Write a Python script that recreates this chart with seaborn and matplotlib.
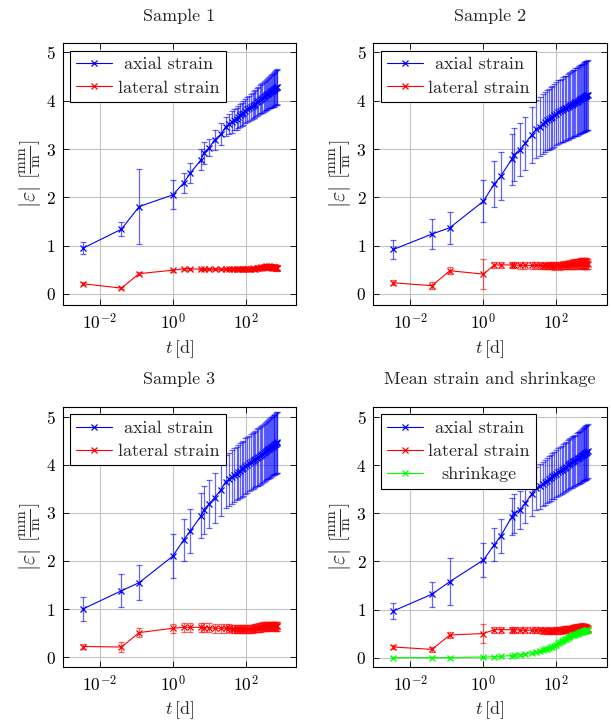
import matplotlib
matplotlib.use("Agg")
import matplotlib.pyplot as plt
from matplotlib.ticker import NullLocator
from matplotlib.transforms import Bbox
import seaborn as sns

# measurement times in days
days = [0.0034, 0.039, 0.12, 1, 2, 3, 6, 7, 10, 14, 21, 28,
        35, 42, 49, 56, 63, 70, 77, 84, 98, 112, 126, 140,
        154, 168, 182, 203, 224, 245, 266, 287, 308, 336, 364, 392,
        420, 448, 476, 504, 532, 560, 588, 616, 644, 672, 700, 728]

# sample 1 (mm/m)
s1_axial = [0.945, 1.34, 1.81, 2.05, 2.30, 2.50, 2.78, 2.92, 3.03, 3.19, 3.31, 3.46,
            3.52, 3.56, 3.61, 3.63, 3.66, 3.70, 3.72, 3.74, 3.78, 3.82, 3.84, 3.87,
            3.90, 3.92, 3.94, 3.97, 3.99, 4.02, 4.04, 4.06, 4.07, 4.10, 4.12, 4.13,
            4.15, 4.17, 4.18, 4.20, 4.21, 4.22, 4.23, 4.25, 4.26, 4.27, 4.28, 4.29]
s1_axial_sd = [0.12, 0.14, 0.77, 0.30, 0.21, 0.21, 0.22, 0.22, 0.18, 0.20, 0.22, 0.20,
               0.21, 0.22, 0.22, 0.23, 0.23, 0.24, 0.24, 0.25, 0.25, 0.26, 0.26, 0.27,
               0.27, 0.28, 0.28, 0.29, 0.29, 0.30, 0.30, 0.31, 0.31, 0.31, 0.32, 0.32,
               0.33, 0.33, 0.33, 0.34, 0.34, 0.34, 0.35, 0.35, 0.35, 0.36, 0.36, 0.36]
s1_lateral = [0.21, 0.12, 0.42, 0.49, 0.52, 0.52, 0.51, 0.51, 0.51, 0.51, 0.51, 0.51,
              0.51, 0.52, 0.51, 0.52, 0.51, 0.52, 0.52, 0.51, 0.52, 0.52, 0.51, 0.52,
              0.53, 0.52, 0.52, 0.53, 0.54, 0.53, 0.55, 0.54, 0.56, 0.55, 0.57, 0.56,
              0.55, 0.57, 0.56, 0.55, 0.54, 0.56, 0.55, 0.54, 0.55, 0.53, 0.54, 0.53]
s1_lateral_sd = [0.03, 0.02, 0.03, 0.03, 0.02, 0.02, 0.02, 0.02, 0.02, 0.02, 0.02, 0.02,
                 0.02, 0.02, 0.02, 0.02, 0.02, 0.03, 0.03, 0.03, 0.03, 0.03, 0.03, 0.03,
                 0.03, 0.03, 0.03, 0.03, 0.04, 0.04, 0.04, 0.04, 0.04, 0.04, 0.05, 0.05,
                 0.05, 0.05, 0.05, 0.05, 0.05, 0.05, 0.05, 0.05, 0.05, 0.05, 0.05, 0.05]

# sample 2
s2_axial = [0.92, 1.24, 1.37, 1.92, 2.28, 2.44, 2.79, 2.88, 2.99, 3.12, 3.29, 3.41,
            3.46, 3.52, 3.56, 3.60, 3.62, 3.65, 3.67, 3.70, 3.73, 3.76, 3.78, 3.80,
            3.82, 3.84, 3.85, 3.87, 3.89, 3.91, 3.92, 3.94, 3.95, 3.97, 3.98, 4.00,
            4.01, 4.03, 4.04, 4.05, 4.06, 4.07, 4.08, 4.09, 4.10, 4.10, 4.11, 4.12]
s2_axial_sd = [0.20, 0.31, 0.33, 0.44, 0.48, 0.50, 0.53, 0.55, 0.55, 0.55, 0.58, 0.60,
               0.61, 0.62, 0.62, 0.63, 0.63, 0.64, 0.64, 0.65, 0.65, 0.66, 0.66, 0.66,
               0.67, 0.67, 0.67, 0.68, 0.68, 0.68, 0.69, 0.69, 0.69, 0.70, 0.70, 0.70,
               0.70, 0.71, 0.71, 0.71, 0.71, 0.71, 0.72, 0.72, 0.72, 0.72, 0.72, 0.72]
s2_lateral = [0.23, 0.17, 0.48, 0.41, 0.60, 0.60, 0.60, 0.60, 0.59, 0.59, 0.59, 0.59,
              0.59, 0.58, 0.59, 0.58, 0.59, 0.58, 0.59, 0.58, 0.59, 0.59, 0.58, 0.59,
              0.60, 0.59, 0.60, 0.60, 0.61, 0.60, 0.61, 0.62, 0.61, 0.62, 0.63, 0.62,
              0.63, 0.64, 0.63, 0.64, 0.63, 0.64, 0.63, 0.62, 0.63, 0.62, 0.63, 0.62]
s2_lateral_sd = [0.05, 0.07, 0.07, 0.31, 0.07, 0.06, 0.07, 0.07, 0.07, 0.07, 0.07, 0.07,
                 0.07, 0.07, 0.07, 0.07, 0.07, 0.07, 0.07, 0.08, 0.08, 0.08, 0.08, 0.08,
                 0.08, 0.08, 0.09, 0.09, 0.09, 0.09, 0.09, 0.10, 0.10, 0.10, 0.10, 0.10,
                 0.10, 0.11, 0.11, 0.11, 0.11, 0.11, 0.11, 0.11, 0.11, 0.11, 0.11, 0.11]

# sample 3
s3_axial = [1.00, 1.38, 1.55, 2.10, 2.44, 2.62, 2.94, 3.06, 3.19, 3.32, 3.48, 3.65,
            3.70, 3.75, 3.79, 3.82, 3.85, 3.88, 3.91, 3.93, 3.97, 4.00, 4.03, 4.06,
            4.08, 4.10, 4.12, 4.15, 4.17, 4.19, 4.21, 4.23, 4.25, 4.27, 4.29, 4.31,
            4.32, 4.34, 4.35, 4.37, 4.38, 4.40, 4.41, 4.42, 4.43, 4.44, 4.46, 4.47]
s3_axial_sd = [0.24, 0.34, 0.37, 0.46, 0.44, 0.46, 0.47, 0.50, 0.50, 0.52, 0.55, 0.55,
               0.55, 0.56, 0.56, 0.56, 0.57, 0.57, 0.57, 0.57, 0.58, 0.58, 0.58, 0.58,
               0.59, 0.59, 0.59, 0.59, 0.60, 0.60, 0.60, 0.60, 0.60, 0.61, 0.61, 0.61,
               0.61, 0.61, 0.62, 0.62, 0.62, 0.62, 0.62, 0.62, 0.63, 0.63, 0.63, 0.63]
s3_lateral = [0.22, 0.21, 0.51, 0.60, 0.62, 0.62, 0.62, 0.61, 0.61, 0.60, 0.60, 0.60,
              0.60, 0.59, 0.59, 0.58, 0.59, 0.58, 0.58, 0.58, 0.58, 0.59, 0.58, 0.59,
              0.59, 0.60, 0.60, 0.61, 0.61, 0.62, 0.62, 0.63, 0.63, 0.64, 0.63, 0.64,
              0.65, 0.64, 0.65, 0.64, 0.65, 0.65, 0.64, 0.65, 0.64, 0.65, 0.64, 0.64]
s3_lateral_sd = [0.05, 0.10, 0.09, 0.09, 0.09, 0.09, 0.09, 0.09, 0.09, 0.09, 0.09, 0.09,
                 0.08, 0.08, 0.08, 0.08, 0.08, 0.08, 0.08, 0.08, 0.08, 0.08, 0.08, 0.08,
                 0.08, 0.08, 0.08, 0.08, 0.09, 0.09, 0.09, 0.09, 0.09, 0.09, 0.09, 0.09,
                 0.09, 0.09, 0.09, 0.09, 0.09, 0.09, 0.09, 0.09, 0.09, 0.09, 0.09, 0.09]

# mean of the three samples and free shrinkage
mean_axial = [0.97, 1.32, 1.58, 2.03, 2.35, 2.53, 2.93, 3.00, 3.07, 3.21, 3.40, 3.52,
              3.56, 3.61, 3.65, 3.68, 3.71, 3.74, 3.77, 3.79, 3.83, 3.86, 3.88, 3.91,
              3.93, 3.95, 3.97, 4.00, 4.02, 4.04, 4.06, 4.08, 4.09, 4.11, 4.13, 4.15,
              4.16, 4.18, 4.19, 4.21, 4.22, 4.23, 4.24, 4.25, 4.26, 4.27, 4.28, 4.30]
mean_axial_sd = [0.17, 0.26, 0.49, 0.36, 0.35, 0.36, 0.38, 0.40, 0.40, 0.42, 0.45, 0.45,
                 0.46, 0.46, 0.47, 0.47, 0.48, 0.48, 0.48, 0.49, 0.49, 0.50, 0.50, 0.50,
                 0.51, 0.51, 0.51, 0.52, 0.52, 0.52, 0.53, 0.53, 0.53, 0.53, 0.54, 0.54,
                 0.54, 0.54, 0.55, 0.55, 0.55, 0.55, 0.55, 0.56, 0.56, 0.56, 0.56, 0.56]
mean_lateral = [0.22, 0.17, 0.47, 0.50, 0.58, 0.58, 0.58, 0.58, 0.57, 0.57, 0.57, 0.57,
                0.57, 0.56, 0.57, 0.56, 0.56, 0.57, 0.56, 0.56, 0.57, 0.57, 0.57, 0.57,
                0.58, 0.58, 0.58, 0.59, 0.59, 0.59, 0.60, 0.60, 0.61, 0.61, 0.61, 0.62,
                0.62, 0.62, 0.63, 0.62, 0.63, 0.62, 0.62, 0.62, 0.61, 0.61, 0.60, 0.60]
mean_lateral_sd = [0.04, 0.06, 0.06, 0.19, 0.06, 0.06, 0.06, 0.06, 0.06, 0.06, 0.06, 0.06,
                   0.06, 0.06, 0.06, 0.06, 0.06, 0.06, 0.06, 0.06, 0.06, 0.07, 0.07, 0.07,
                   0.07, 0.07, 0.07, 0.07, 0.07, 0.07, 0.07, 0.07, 0.07, 0.08, 0.08, 0.08,
                   0.08, 0.08, 0.08, 0.08, 0.08, 0.08, 0.08, 0.08, 0.08, 0.08, 0.08, 0.08]
shrinkage = [0.00, 0.00, 0.00, 0.01, 0.02, 0.03, 0.04, 0.05, 0.06, 0.08, 0.10, 0.12,
             0.14, 0.15, 0.17, 0.18, 0.20, 0.21, 0.23, 0.24, 0.27, 0.30, 0.32, 0.34,
             0.36, 0.38, 0.39, 0.41, 0.43, 0.44, 0.46, 0.47, 0.48, 0.49, 0.50, 0.51,
             0.52, 0.53, 0.53, 0.54, 0.55, 0.55, 0.56, 0.56, 0.57, 0.57, 0.58, 0.58]
shrinkage_sd = [0.01, 0.01, 0.01, 0.01, 0.01, 0.01, 0.01, 0.01, 0.02, 0.02, 0.02, 0.02,
                0.02, 0.02, 0.02, 0.02, 0.02, 0.02, 0.02, 0.02, 0.03, 0.03, 0.03, 0.03,
                0.03, 0.03, 0.03, 0.03, 0.03, 0.03, 0.03, 0.03, 0.03, 0.03, 0.04, 0.04,
                0.04, 0.04, 0.04, 0.04, 0.04, 0.04, 0.04, 0.04, 0.04, 0.04, 0.04, 0.04]

titles = ["Sample 1", "Sample 2", "Sample 3", "Mean strain and shrinkage"]
series_labels = ["axial strain", "lateral strain", "shrinkage"]
x_ticks = [1e-2, 1e0, 1e2]
y_ticks = [0, 1, 2, 3, 4, 5]

BLUE, RED, GREEN = "#0000ff", "#ff0000", "#00ff00"

sns.set_theme(style="ticks")
plt.rcParams.update({
    "font.family": ["cmr10"],
    "mathtext.fontset": "cm",
    "axes.formatter.use_mathtext": True,
    "axes.unicode_minus": False,
    "font.size": 12.5,
    "axes.edgecolor": "black",
    "axes.linewidth": 0.8,
    "xtick.color": "black",
    "ytick.color": "black",
    "xtick.labelsize": 12.5,
    "ytick.labelsize": 12.5,
})


def draw_series(ax, mean, sd, color, label):
    ax.errorbar(days, mean, yerr=sd, fmt="none", ecolor=color, alpha=0.6,
                elinewidth=0.9, capsize=2.3, capthick=0.9, zorder=2)
    sns.lineplot(x=days, y=mean, ax=ax, color=color, marker="x", markersize=4,
                 markeredgewidth=0.9, markeredgecolor=color, linewidth=0.8,
                 label=label, estimator=None, errorbar=None, zorder=3)


def centre_legend_labels(fig, leg):
    fig.canvas.draw()
    renderer = fig.canvas.get_renderer()
    areas = [item.get_children()[1]
             for col in leg._legend_handle_box.get_children()
             for item in col.get_children()]
    width = max(a.get_bbox(renderer).width for a in areas)
    for a in areas:
        a._text.set_horizontalalignment("center")
        base = a.get_bbox

        def widened(renderer, base=base, width=width):
            bb = base(renderer)
            return Bbox.from_bounds(-width / 2, bb.y0, width, bb.height)
        a.get_bbox = widened


fig = plt.figure(figsize=(6.11, 7.22), dpi=100)
W, H = 611, 722
boxes = [(62.7, 43.3, 233.3, 261.7), (373.3, 43.3, 233.3, 261.7),
         (62.7, 406.7, 233.3, 260.0), (373.3, 406.7, 233.3, 260.0)]
ylims = [(-0.23, 5.19), (-0.23, 5.19), (-0.2, 5.21), (-0.19, 5.22)]

panels = [
    [(s1_axial, s1_axial_sd, BLUE), (s1_lateral, s1_lateral_sd, RED)],
    [(s2_axial, s2_axial_sd, BLUE), (s2_lateral, s2_lateral_sd, RED)],
    [(s3_axial, s3_axial_sd, BLUE), (s3_lateral, s3_lateral_sd, RED)],
    [(mean_axial, mean_axial_sd, BLUE), (mean_lateral, mean_lateral_sd, RED),
     (shrinkage, shrinkage_sd, GREEN)],
]

legends = []
for (x0, y0, w, h), title, series, ylim in zip(boxes, titles, panels, ylims):
    ax = fig.add_axes([x0 / W, 1 - (y0 + h) / H, w / W, h / H])
    ax.set_xscale("log")
    for (mean, sd, color), label in zip(series, series_labels):
        draw_series(ax, mean, sd, color, label)
    ax.set_xlim(10 ** -3.02, 10 ** 3.38)
    ax.set_ylim(*ylim)
    ax.set_xticks(x_ticks)
    ax.xaxis.set_minor_locator(NullLocator())
    ax.set_yticks(y_ticks)
    ax.grid(True, color="#c4c4c4", linewidth=0.8)
    ax.set_axisbelow(True)
    ax.tick_params(which="both", direction="in", top=True, right=True,
                   length=4.5, width=0.6, pad=5)
    ax.set_title(title, fontsize=13, pad=16)
    ax.set_xlabel(r"$t\,[\mathrm{d}]$", fontsize=13, labelpad=4)
    ax.set_ylabel(r"$|\varepsilon|\ \left[\frac{\mathrm{mm}}{\mathrm{m}}\right]$",
                  fontsize=16, labelpad=2)
    leg = ax.legend(loc="upper left", fontsize=13, frameon=True, fancybox=False,
                    framealpha=1, edgecolor="black", borderpad=0.35,
                    labelspacing=0.42, handlelength=2.0, handletextpad=0.3,
                    borderaxespad=0.4)
    leg.get_frame().set_linewidth(0.8)
    legends.append(leg)

for leg in legends:
    centre_legend_labels(fig, leg)

fig.savefig("out.png", dpi=100)
